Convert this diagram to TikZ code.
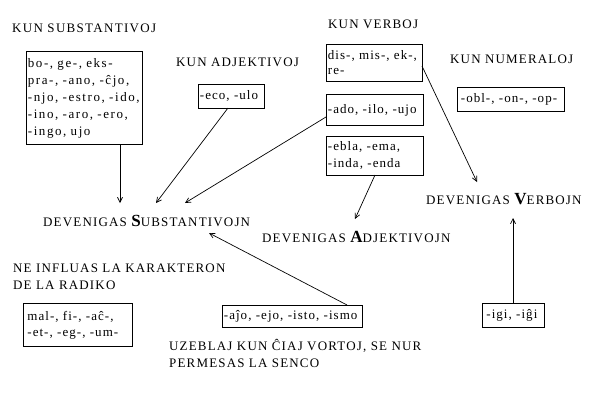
\documentclass[tikz,border=0pt]{standalone}
\usepackage{fontspec}
\setmainfont{Liberation Serif}
\newfontfamily\hfont[LetterSpace=9]{Liberation Serif}
\newfontfamily\bfont[LetterSpace=8]{Liberation Serif}
\newfontfamily\bwfont[LetterSpace=12]{Liberation Serif}
\usetikzlibrary{arrows.meta}
\newcommand{\fs}{\hfont\fontsize{13}{17}\selectfont}
\newcommand{\bs}{\bfont\fontsize{13}{17}\selectfont}
\newcommand{\bigL}[1]{{\fontsize{17}{17}\selectfont\bfseries #1}}
\begin{document}
\begin{tikzpicture}[x=1pt,y=-1pt,
  lbl/.style={anchor=west, inner sep=0pt, font=\fs, align=left},
  box/.style={draw, line width=0.8pt, anchor=north west, align=left, inner xsep=1.5pt, inner ysep=0pt, font=\bs},
  arr/.style={line width=0.7pt, -{Straight Barb[length=5pt,width=5pt]}}]
\useasboundingbox (0,0) rectangle (600,400);
% headings
\node[lbl, font=\fs\addfontfeature{LetterSpace=10}] (hS) at (12,28) {KUN SUBSTANTIVOJ};
\node[lbl] (hA) at (176,62) {KUN ADJEKTIVOJ};
\node[lbl] (hV) at (328,24) {KUN VERBOJ};
\node[lbl] (hN) at (450,59) {KUN NUMERALOJ};
\node[lbl] (hK) at (13,277) {NE INFLUAS LA KARAKTERON\\DE LA RADIKO};
\node[lbl] (hU) at (169,353) {UZEBLAJ KUN ĈIAJ VORTOJ, SE NUR\\PERMESAS LA SENCO};
% targets
\node[lbl] (dS) at (43,221) {DEVENIGAS \bigL{S}UBSTANTIVOJN};
\node[lbl] (dA) at (262,237) {DEVENIGAS \bigL{A}DJEKTIVOJN};
\node[lbl] (dV) at (426,199) {DEVENIGAS \bigL{V}ERBOJN};
% boxes
\node[box, minimum width=116, minimum height=93, text width=113, font=\bwfont\fontsize{13}{17}\selectfont] (bS) at (26,51)
  {\mbox{bo-, ge-, eks-}\\\mbox{pra-, -ano, -ĉjo,}\\\mbox{-njo, -estro, -ido,}\\\mbox{-ino, -aro, -ero,}\\\mbox{-ingo, ujo}};
\node[box, minimum width=66, minimum height=24, text width=63] (bA) at (198,84) {\mbox{-eco, -ulo}};
\node[box, minimum width=96, minimum height=37, text width=93, font=\bfont\fontsize{13}{15}\selectfont] (bV) at (326,44) {\mbox{dis-, mis-, ek-,}\\\mbox{re-}};
\node[box, minimum width=97, minimum height=31, text width=94] (bI) at (326,94) {\mbox{-ado, -ilo, -ujo}};
\node[box, minimum width=97, minimum height=39, text width=94] (bE) at (326,136) {\mbox{-ebla, -ema,}\\\mbox{-inda, -enda}};
\node[box, minimum width=107, minimum height=24, text width=100, inner xsep=3.5pt] (bN) at (457,87) {\mbox{-obl-, -on-, -op-}};
\node[box, minimum width=109, minimum height=43, text width=101, inner xsep=4pt, font=\bfont\fontsize{13}{16}\selectfont] (bM) at (23,303) {\mbox{mal-, fi-, -aĉ-,}\\\mbox{-et-, -eg-, -um-}};
\node[box, minimum width=140, minimum height=22, text width=137] (bJ) at (222,305) {\mbox{-aĵo, -ejo, -isto, -ismo}};
\node[box, minimum width=62, minimum height=24, text width=54, inner xsep=4pt] (bG) at (482,303) {\mbox{-igi, -iĝi}};
% connector endpoints
\coordinate (s1) at (120,144); \coordinate (t1) at (120,203);
\coordinate (s2) at (228,108); \coordinate (t2) at (156,203);
\coordinate (s3) at (326,117); \coordinate (t3) at (185,203);
\coordinate (s4) at (422,66);  \coordinate (t4) at (477,182);
\coordinate (s5) at (375,175); \coordinate (t5) at (355,219);
\coordinate (s6) at (347,305); \coordinate (t6) at (209,233);
\coordinate (s7) at (513,303); \coordinate (t7) at (513,218);
\draw[arr] (s1) -- (t1);
\draw[arr] (s2) -- (t2);
\draw[arr] (s3) -- (t3);
\draw[arr] (s4) -- (t4);
\draw[arr] (s5) -- (t5);
\draw[arr] (s6) -- (t6);
\draw[arr] (s7) -- (t7);
\end{tikzpicture}
\end{document}
